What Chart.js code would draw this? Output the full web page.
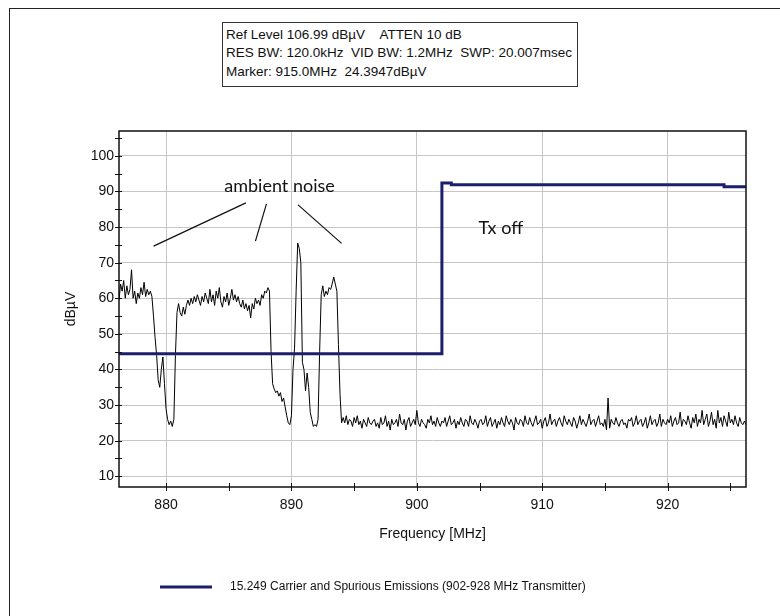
<!DOCTYPE html>
<html>
<head>
<meta charset="utf-8">
<script src="https://cdn.jsdelivr.net/npm/chart.js@4/dist/chart.umd.min.js"></script>
<style>
html,body{margin:0;padding:0;background:#fff;width:780px;height:616px;overflow:hidden}
#wrap{position:relative;width:780px;height:616px}
#frame{position:absolute;left:9px;top:8px;width:800px;height:640px;border-left:1.5px solid #222;border-top:1.5px solid #222}
#hdr{position:absolute;left:222px;top:22px;width:356px;height:65px;box-sizing:border-box;border:1px solid #333;background:#fff;
 font-family:"Liberation Sans",Arial,sans-serif;font-size:13.5px;line-height:18.3px;padding:3px 0 0 3px;white-space:pre;color:#111}
canvas{position:absolute;left:0;top:0}
</style>
</head>
<body>
<div id="wrap">
<div id="frame"></div>
<canvas id="c" width="780" height="616"></canvas>
<div id="hdr">Ref Level 106.99 dBµV    ATTEN 10 dB
RES BW: 120.0kHz  VID BW: 1.2MHz  SWP: 20.007msec
Marker: 915.0MHz  24.3947dBµV</div>
</div>
<script>
// ---- axis ranges / ticks ----
const freqMin = 876.25, freqMax = 926.25;
const levelMin = 6.99, levelMax = 106.99;
const freqTicks = [880, 890, 900, 910, 920];
const freqTickMarks = [880, 885, 890, 895, 900, 905, 910, 915, 920, 925];
const levelTicks = [10, 20, 30, 40, 50, 60, 70, 80, 90, 100];
const levelTickMarks = [10, 15, 20, 25, 30, 35, 40, 45, 50, 55, 60, 65, 70, 75, 80, 85, 90, 95, 100, 105];

// ---- limit line (15.249) ----
const limitLabel = '15.249 Carrier and Spurious Emissions (902-928 MHz Transmitter)';
const limitFreq  = [876.25, 902.0, 902.0, 902.75, 902.75, 924.5, 924.5, 926.25];
const limitLevel = [44.4,   44.4,  92.4,  92.4,   91.9,   91.9,  91.3,  91.3];

// ---- measured trace (sweep: start 876.25 MHz, 0.125 MHz per point) ----
const sweepStart = 876.25, sweepStep = 0.125;
const traceLevels = [
 59.5,64,62,65,60,63.5,61,62.5,68,60,62,58.5,61.5,60,63,61,64.5,60.5,62.5,61,62,
 60.5,55,49,44,37,35,40,43.5,36,29,26,24.5,25.5,24,26,44,56,
 58.5,56,55,57.5,55.5,58,59.5,58,60,58.5,60.5,59,61,59.5,58,60.5,59,61.5,60,58.5,
 62.5,59,61,58,62,60,63,59,57.5,60.5,59,61.5,58,60,62.5,59.5,61,59,60.5,58.5,
 57.5,59.5,57,58.5,56.5,58,54.5,58.5,57,60,58.5,59.5,58,61,60,62,61.5,63,
 62,45,36,34.5,33.5,34,32.5,33.5,31,32,29.5,27,25,24.5,27,40,46,62,75.5,74,70,42,
 40,34,39,35,28,26,24,24.5,24,26,45,61,63.5,60.5,62,61,63,62.5,64,66,64,62,47,33,25,
 26.5,25,27,24.5,26,25.5,24,26.5,25,27,24.5,25.5,23.5,26,25,24,26.5,25,24.5,25.5,
 26,24,25,23.5,26.5,24.5,25,27,24,25.5,23,26,24.5,25,26,24,27.5,25,24.5,26,
 23,25.5,26.5,24,25,26,24.5,28.5,25,24,26,25,24.5,23.5,26,25,27,24.5,25.5,24,26.5,25,24,25.5,
 25,26.5,24,25.5,27,24.5,25,26,23.5,25.5,24.5,26.5,25,24,26,25.5,24,27,25,24.5,26,25,23.5,25.5,
 26,24.5,25,27,24,25.5,26.5,24,25,26,23.5,25.5,24.5,26.5,25,24,27,25.5,24.5,26,25,23,26.5,25,
 24.5,26,25.5,24,27,25,24.5,26.5,25,24,25.5,27,24.5,25,26,23.5,25.5,26.5,24,25,27.5,24.5,25.5,26,
 24,25.5,26.5,25,24,27,25.5,24.5,26,25,24,26.5,25.5,23.5,25,27,24.5,26,25,24,25.5,27.5,24.5,25.5,
 26,24,25.5,27,24.5,25,24,26,23,32,23.5,26,25,24.5,26.5,25,24,25.5,26,24.5,25,23.5,26,25.5,
 26.5,24,25,27,24.5,25.5,26,24,25,26.5,23.5,25,27,24.5,25.5,26,24,25,27.5,24,26,25,24.5,26,
 25,27,24,25.5,26.5,24.5,25,28,24,26,25.5,24.5,27,25,23.5,26.5,25,27.5,24,26,25,28.5,24.5,26,
 27.5,24,25.5,28,24.5,26,23.5,28.5,25,26.5,24,27,25.5,24,28,25,26,24.5,27,25,24,26.5,25,24.5,25.5,24.5
];

// ---- annotations ----
const noteLineX1 = [879.01, 887.13, 890.53];
const noteLineY1 = [74.66, 76.06, 86.23];
const noteLineX2 = [886.37, 888.01, 894.0];
const noteLineY2 = [86.79, 86.51, 75.42];
const noteTexts = ['ambient noise', 'Tx off'];
const noteTextX = [889.05, 906.7];
const noteTextY = [91.5, 79.6];

const limitColor = '#1d1f6e';
const FONT = '"Liberation Sans", Arial, sans-serif';

const limitPoints = limitFreq.map((f, i) => ({x: f, y: limitLevel[i]}));
const tracePoints = traceLevels.map((v, i) => ({x: sweepStart + i * sweepStep, y: v}));

const frameAndTicks = {
  id: 'frameAndTicks',
  afterDatasetsDraw(chart) {
    const {ctx, chartArea: a, scales: {x, y}} = chart;
    ctx.save();
    // annotation lines
    ctx.strokeStyle = '#111';
    ctx.lineWidth = 1.2;
    noteLineX1.forEach((_, k) => {
      ctx.beginPath();
      ctx.moveTo(x.getPixelForValue(noteLineX1[k]), y.getPixelForValue(noteLineY1[k]));
      ctx.lineTo(x.getPixelForValue(noteLineX2[k]), y.getPixelForValue(noteLineY2[k]));
      ctx.stroke();
    });
    ctx.font = '18px Lato, "Open Sans", sans-serif';
    ctx.fillStyle = '#111';
    ctx.textAlign = 'center';
    ctx.textBaseline = 'middle';
    noteTexts.forEach((t, k) => ctx.fillText(t, x.getPixelForValue(noteTextX[k]), y.getPixelForValue(noteTextY[k])));
    // plot border
    ctx.strokeStyle = '#111';
    ctx.lineWidth = 1.5;
    ctx.strokeRect(a.left, a.top, a.right - a.left, a.bottom - a.top);
    // tick marks crossing the axes
    ctx.lineWidth = 1;
    ctx.beginPath();
    levelTickMarks.forEach(v => {
      const py = Math.round(y.getPixelForValue(v)) + 0.5;
      ctx.moveTo(a.left - 4, py); ctx.lineTo(a.left + 3, py);
    });
    freqTickMarks.forEach(v => {
      const px = Math.round(x.getPixelForValue(v)) + 0.5;
      ctx.moveTo(px, a.bottom - 4); ctx.lineTo(px, a.bottom + 4);
    });
    ctx.stroke();
    ctx.restore();
  },
  afterDraw(chart) {
    const ctx = chart.ctx;
    const ds = chart.data.datasets[0];
    ctx.save();
    ctx.font = '12px ' + FONT;
    const tw = ctx.measureText(ds.label).width;
    const total = 52 + 18 + tw;
    const cx = chart.chartArea.right / 2;
    const x0 = Math.round(cx - total / 2);
    const y0 = 587;
    ctx.strokeStyle = ds.borderColor;
    ctx.lineWidth = 3;
    ctx.beginPath(); ctx.moveTo(x0, y0); ctx.lineTo(x0 + 52, y0); ctx.stroke();
    ctx.fillStyle = '#111';
    ctx.textAlign = 'left';
    ctx.textBaseline = 'middle';
    ctx.fillText(ds.label, x0 + 70, y0);
    ctx.restore();
  }
};

new Chart(document.getElementById('c'), {
  type: 'line',
  data: {
    datasets: [
      {label: limitLabel, data: limitPoints, borderColor: limitColor, backgroundColor: limitColor,
       borderWidth: 3, pointRadius: 0, tension: 0, order: 0},
      {label: 'Trace', data: tracePoints, borderColor: '#000', borderWidth: 1,
       pointRadius: 0, tension: 0, order: 1}
    ]
  },
  options: {
    responsive: false,
    animation: false,
    devicePixelRatio: 1,
    layout: {padding: {left: 0, right: 34, top: 131, bottom: 0}},
    plugins: {legend: {display: false}, tooltip: {enabled: false}},
    scales: {
      x: {
        type: 'linear', min: freqMin, max: freqMax,
        afterBuildTicks: s => { s.ticks = freqTicks.map(v => ({value: v})); },
        afterFit: s => { s.height = 129; },
        grid: {color: '#c6c6c6', lineWidth: 1, drawTicks: false},
        border: {display: false},
        ticks: {font: {family: FONT, size: 14}, color: '#111', padding: 10, maxRotation: 0, autoSkip: false},
        title: {display: true, text: 'Frequency [MHz]', font: {family: FONT, size: 14}, color: '#111',
                padding: {top: 0, bottom: 73}}
      },
      y: {
        min: levelMin, max: levelMax,
        afterBuildTicks: s => { s.ticks = levelTicks.map(v => ({value: v})); },
        afterFit: s => { s.width = 119; },
        grid: {color: '#c6c6c6', lineWidth: 1, drawTicks: false},
        border: {display: false},
        ticks: {font: {family: FONT, size: 14}, color: '#111', padding: 5},
        title: {display: true, text: 'dBµV', font: {family: FONT, size: 14}, color: '#111',
                padding: {top: 63, bottom: 0}}
      }
    }
  },
  plugins: [frameAndTicks]
});
</script>
</body>
</html>
